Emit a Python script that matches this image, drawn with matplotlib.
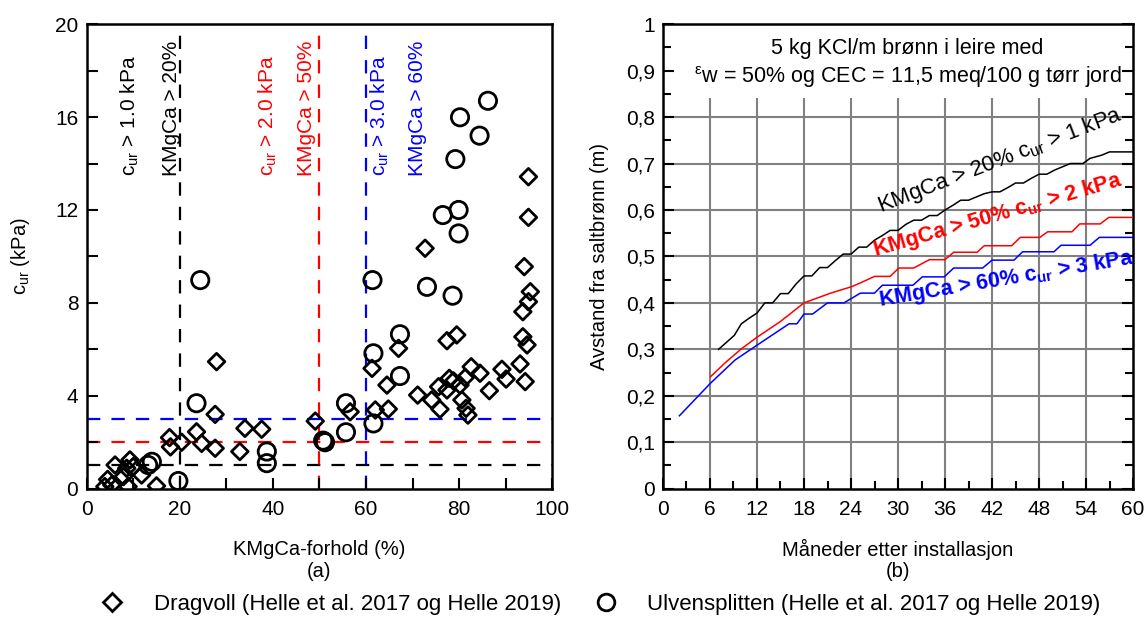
import numpy as np
import matplotlib
matplotlib.use("Agg")
import matplotlib.pyplot as plt
from matplotlib.lines import Line2D
from matplotlib.ticker import MultipleLocator, FuncFormatter

plt.rcParams['font.family'] = ['Liberation Sans', 'DejaVu Sans']
plt.rcParams['mathtext.default'] = 'regular'

# ---- (a) scatter data: KMgCa-forhold (%) vs c_ur (kPa) ----
dragvoll_x = [3.9, 5.4, 4.5, 6.1, 8.6, 9.3, 7.9, 10.0, 11.8, 8.9, 15.0,
              17.8, 18.0, 20.4, 23.6, 24.7, 27.6, 27.6, 27.9, 32.9, 34.0, 37.6,
              49.1, 56.6, 61.3, 62.0, 64.8, 64.5, 67.0,
              71.1, 72.7, 74.1, 75.9, 75.6, 77.4, 77.4, 77.9, 78.8, 79.5, 80.2,
              80.6, 81.3, 81.5, 81.9, 82.6, 84.5, 86.5, 89.2, 90.1, 93.1,
              93.7, 93.7, 94.0, 94.2, 94.6, 94.9, 94.9, 94.9, 95.3]
dragvoll_y = [0.09, 0.16, 0.40, 1.02, 0.88, 1.24, 0.52, 0.95, 0.59, 0.09, 0.12,
              2.2, 1.8, 2.0, 2.45, 1.95, 1.74, 3.2, 5.47, 1.6, 2.6, 2.56,
              2.91, 3.31, 5.18, 3.39, 3.43, 4.46, 6.04,
              4.03, 10.35, 3.82, 3.42, 4.39, 4.25, 6.37, 4.75, 4.64, 6.62, 4.46,
              3.82, 4.78, 3.46, 3.17, 5.25, 4.97, 4.22, 5.14, 4.72, 5.37,
              7.62, 6.54, 9.56, 4.61, 6.19, 13.43, 11.68, 8.05, 8.48]

ulven_x = [13.2, 14.0, 19.7, 23.6, 24.4, 38.7, 38.7, 50.8, 51.2, 55.7, 55.7,
           61.4, 61.6, 61.6, 67.3, 67.3, 73.1, 76.5, 78.6, 79.2, 79.9, 79.9,
           80.2, 84.4, 86.2]
ulven_y = [1.02, 1.16, 0.33, 3.68, 8.98, 1.6, 1.1, 2.07, 2.0, 3.68, 2.43,
           8.98, 5.83, 2.81, 4.85, 6.65, 8.69, 11.78, 8.31, 14.19, 12.0, 10.99,
           15.99, 15.2, 16.7]

# thresholds: (KMgCa %, c_ur kPa, colour)
thr_kmgca = [20, 50, 60]
thr_cur = [1.0, 2.0, 3.0]
thr_colors = ['black', 'red', 'blue']
thr_text_x = [(9.3, 18.3), (39.0, 47.2), (63.0, 71.0)]

# ---- (b) distance from salt well vs months ----
black_m = [7.1, 9.1, 10, 11, 12, 13, 14, 15, 16, 17, 18, 19, 20, 21, 22, 23, 24,
           25, 26, 27, 28, 29, 30, 31, 32, 33, 34, 35, 36, 37, 38, 39, 40, 41,
           42, 43, 44, 45, 46, 47, 48, 49, 50, 51, 52, 53.6, 54.5, 56, 57, 60]
black_d = [0.30, 0.33, 0.355, 0.367, 0.378, 0.40, 0.40, 0.42, 0.42, 0.441,
           0.458, 0.458, 0.476, 0.476, 0.491, 0.505, 0.505, 0.52, 0.52, 0.535,
           0.545, 0.556, 0.556, 0.569, 0.578, 0.578, 0.588, 0.588, 0.60, 0.61,
           0.621, 0.621, 0.628, 0.635, 0.639, 0.639, 0.648, 0.658, 0.658, 0.668,
           0.677, 0.677, 0.686, 0.693, 0.70, 0.70, 0.711, 0.718, 0.725, 0.725]
red_m = [6.06, 8, 10, 12, 15, 18, 21.4, 24.1, 25.2, 27, 29, 30.1, 32, 34, 36,
         37.1, 40.1, 41, 44.5, 45.6, 48.1, 49.1, 52.2, 53.2, 55.8, 56.9, 60]
red_d = [0.241, 0.272, 0.301, 0.326, 0.36, 0.40, 0.421, 0.435, 0.443, 0.457,
         0.457, 0.475, 0.475, 0.493, 0.493, 0.509, 0.509, 0.523, 0.523, 0.541,
         0.541, 0.553, 0.553, 0.570, 0.570, 0.584, 0.584]
blue_m = [2.1, 6.06, 9.2, 12.1, 16.1, 17.1, 18, 19.1, 21, 23.1, 25.2, 27, 28,
          31.9, 33.1, 35.9, 37.1, 40.8, 42, 44.8, 45.9, 49.9, 50.8, 54.5, 55.7, 60]
blue_d = [0.157, 0.227, 0.277, 0.31, 0.355, 0.355, 0.376, 0.376, 0.40, 0.40,
          0.421, 0.421, 0.438, 0.438, 0.456, 0.456, 0.475, 0.475, 0.492, 0.492,
          0.51, 0.51, 0.524, 0.524, 0.541, 0.541]

fig = plt.figure(figsize=(11.48, 6.19), dpi=100)
ax1 = fig.add_axes([0.0755, 0.2105, 0.4055, 0.7505])
ax2 = fig.add_axes([0.5775, 0.2105, 0.4095, 0.7505])

fs = 15
lfs = 14.5

# =============================
# (a) scatter
# =============================
for kx, cu, col, (tx1, tx2) in zip(thr_kmgca, thr_cur, thr_colors, thr_text_x):
    ax1.axvline(kx, color=col, ls=(0, (6, 5)), lw=1.6, zorder=1)
    ax1.axhline(cu, color=col, ls=(0, (6, 5)), lw=1.6, zorder=1)
    ax1.text(tx1, 13.45, r"c$_{ur}$ > %.1f kPa" % cu, rotation=90, color=col,
             ha='center', va='bottom', fontsize=fs)
    ax1.text(tx2, 13.45, "KMgCa > %d%%" % kx, rotation=90, color=col,
             ha='center', va='bottom', fontsize=fs)

ax1.scatter(dragvoll_x, dragvoll_y, marker='D', s=72, facecolors='none',
            edgecolors='black', linewidths=2.0, zorder=3)
ax1.scatter(ulven_x, ulven_y, marker='o', s=155, facecolors='none',
            edgecolors='black', linewidths=2.0, zorder=3)

ax1.set_xlim(0, 100)
ax1.set_ylim(0, 20)
ax1.xaxis.set_major_locator(MultipleLocator(20))
ax1.xaxis.set_minor_locator(MultipleLocator(10))
ax1.yaxis.set_major_locator(MultipleLocator(4))
ax1.yaxis.set_minor_locator(MultipleLocator(2))
ax1.tick_params(which='both', direction='in', labelsize=fs, width=1.5, length=8)
ax1.tick_params(axis='x', pad=8)
ax1.tick_params(axis='y', pad=6)
for s in ax1.spines.values():
    s.set_linewidth(1.8)
ax1.set_xlabel("KMgCa-forhold (%)", fontsize=lfs, va='center')
ax1.xaxis.set_label_coords(0.5, -0.13)
ax1.set_ylabel(r"c$_{ur}$ (kPa)", fontsize=lfs, va='center')
ax1.yaxis.set_label_coords(-0.143, 0.5)
ax1.text(0.5, -0.178, "(a)", transform=ax1.transAxes, ha='center', va='center', fontsize=lfs)

# =============================
# (b) lines
# =============================
ax2.hlines(np.arange(0.1, 0.85, 0.1), 0, 60, color='#808080', lw=1.5, zorder=1)
ax2.vlines(np.arange(6, 60, 6), 0, 0.84, color='#808080', lw=1.5, zorder=1)

ax2.plot(black_m, black_d, color='black', lw=1.1, zorder=3)
ax2.plot(red_m, red_d, color='red', lw=1.1, zorder=3)
ax2.plot(blue_m, blue_d, color='blue', lw=1.1, zorder=3)

ax2.text(27.8, 0.595, r"KMgCa > 20% c$_{ur}$ > 1 kPa", rotation=21, color='black',
         fontsize=16, rotation_mode='anchor', ha='left', va='baseline')
ax2.text(27.1, 0.50, r"KMgCa > 50% c$_{ur}$ > 2 kPa", rotation=16, color='red',
         fontsize=15.5, fontweight='bold', rotation_mode='anchor', ha='left', va='baseline')
ax2.text(27.7, 0.393, r"KMgCa > 60% c$_{ur}$ > 3 kPa", rotation=9.5, color='blue',
         fontsize=15.5, fontweight='bold', rotation_mode='anchor', ha='left', va='baseline')

ax2.text(31.2, 0.947, "5 kg KCl/m brønn i leire med", ha='center', va='center', fontsize=15.5)
ax2.text(31.2, 0.885, r"$^{\varepsilon}$w = 50% og CEC = 11,5 meq/100 g tørr jord",
         ha='center', va='center', fontsize=15.5)

ax2.set_xlim(0, 60)
ax2.set_ylim(0, 1)
ax2.xaxis.set_major_locator(MultipleLocator(6))
ax2.xaxis.set_minor_locator(MultipleLocator(3))
ax2.yaxis.set_major_locator(MultipleLocator(0.1))
ax2.yaxis.set_minor_locator(MultipleLocator(0.05))
ax2.yaxis.set_major_formatter(FuncFormatter(
    lambda v, p: "0" if abs(v) < 1e-9 else ("1" if abs(v - 1) < 1e-9 else ("%.1f" % v).replace('.', ','))))
ax2.tick_params(which='both', direction='in', labelsize=fs, width=1.5, right=True)
ax2.tick_params(which='major', length=8)
ax2.tick_params(which='minor', length=6)
ax2.tick_params(axis='x', pad=8)
ax2.tick_params(axis='y', pad=6)
for s in ax2.spines.values():
    s.set_linewidth(1.8)
ax2.set_xlabel("Måneder etter installasjon", fontsize=lfs, va='center')
ax2.xaxis.set_label_coords(0.5, -0.13)
ax2.set_ylabel("Avstand fra saltbrønn (m)", fontsize=lfs, va='center')
ax2.yaxis.set_label_coords(-0.135, 0.5)
ax2.text(0.5, -0.178, "(b)", transform=ax2.transAxes, ha='center', va='center', fontsize=lfs)

# legend
handles = [Line2D([], [], marker='D', ls='none', mfc='none', mec='black', mew=2.0, ms=9),
           Line2D([], [], marker='o', ls='none', mfc='none', mec='black', mew=2.0, ms=12)]
fig.legend(handles, ["Dragvoll (Helle et al. 2017 og Helle 2019)",
                     "Ulvensplitten (Helle et al. 2017 og Helle 2019)"],
           loc='center', bbox_to_anchor=(0.5235, 0.023), ncol=2, frameon=False,
           fontsize=16, handlelength=1.0, handletextpad=1.36, columnspacing=1.53)

fig.savefig("out.png", dpi=100)
